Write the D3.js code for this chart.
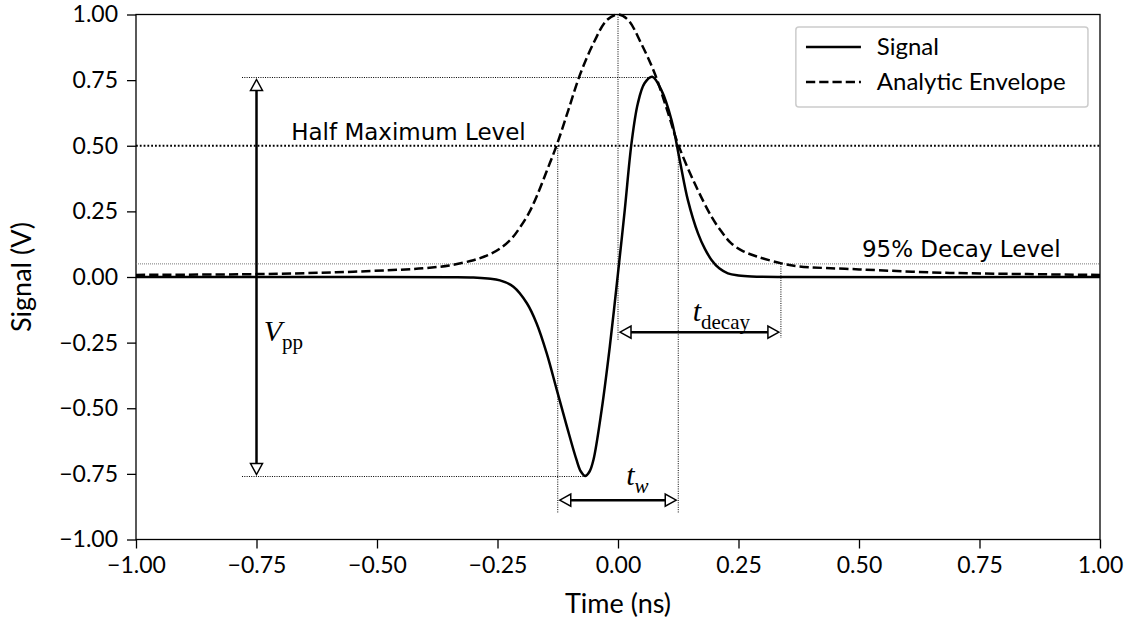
<!DOCTYPE html>
<html>
<head>
<meta charset="utf-8">
<script src="https://cdn.jsdelivr.net/npm/d3@7"></script>
<style>
  body { margin: 0; background: #fff; }
</style>
</head>
<body>
<div id="chart"></div>
<script>
// values
const signalTime = [-1.0, -0.5, -0.35, -0.30, -0.27, -0.245, -0.217, -0.189, -0.169, -0.148, -0.127, -0.106, -0.086, -0.077, -0.068, -0.059, -0.051, -0.034, -0.017, 0.0, 0.014, 0.028, 0.041, 0.055, 0.071, 0.09, 0.111, 0.128, 0.145, 0.166, 0.18, 0.194, 0.21, 0.228, 0.25, 0.277, 0.35, 1.0];
const signalValue = [0, 0, -0.001, -0.002, -0.006, -0.013, -0.037, -0.10, -0.176, -0.29, -0.43, -0.57, -0.697, -0.741, -0.758, -0.741, -0.697, -0.507, -0.265, 0.015, 0.255, 0.509, 0.66, 0.738, 0.763, 0.712, 0.598, 0.446, 0.293, 0.166, 0.108, 0.065, 0.033, 0.014, 0.006, 0.002, 0, 0];

const envTime = [-1.0, -0.75, -0.585, -0.45, -0.4, -0.35, -0.3, -0.27, -0.245, -0.22, -0.203, -0.185, -0.169, -0.148, -0.127, -0.103, -0.079, -0.051, -0.023, 0, 0.021, 0.048, 0.076, 0.104, 0.124, 0.159, 0.194, 0.215, 0.235, 0.26, 0.29, 0.339, 0.373, 0.5, 0.68, 0.85, 1.0];
const envValue = [0.008, 0.011, 0.018, 0.028, 0.034, 0.044, 0.064, 0.083, 0.108, 0.148, 0.19, 0.243, 0.306, 0.403, 0.503, 0.636, 0.77, 0.89, 0.979, 1.0, 0.979, 0.89, 0.776, 0.624, 0.509, 0.357, 0.23, 0.172, 0.128, 0.098, 0.077, 0.052, 0.041, 0.029, 0.016, 0.011, 0.008];

const xTicks = [-1, -0.75, -0.5, -0.25, 0, 0.25, 0.5, 0.75, 1];
const yTicks = [-1, -0.75, -0.5, -0.25, 0, 0.25, 0.5, 0.75, 1];
const legendLabels = ["Signal", "Analytic Envelope"];

// annotation values
const halfMax = 0.5;
const decayLevel = 0.05;
const vppTop = 0.76, vppBottom = -0.76, vppTime = -0.75;
const peakTime = 0.071, troughTime = -0.068;
const twStart = -0.125, twEnd = 0.125, twLevel = -0.85;
const decayStart = 0, decayEnd = 0.338, decayArrowLevel = -0.21;

const margin = {top: 14.5, right: 36, bottom: 84.5, left: 136};
const width = 1136 - margin.left - margin.right;
const height = 624 - margin.top - margin.bottom;
const sansFont = "Lato, 'DejaVu Sans', sans-serif";
const annFont = "'DejaVu Sans', sans-serif";
const mathFont = "'Liberation Serif', 'DejaVu Serif', serif";

const svg = d3.select("#chart").append("svg")
    .attr("width", 1136)
    .attr("height", 624)
    .append("g")
    .attr("transform", `translate(${margin.left},${margin.top})`);

const x = d3.scaleLinear().domain([-1, 1]).range([0, width]);
const y = d3.scaleLinear().domain([-1, 1]).range([height, 0]);

// axes
const fmt = d3.format(".2f");
const xAxis = svg.append("g")
    .attr("transform", `translate(0,${height})`)
    .call(d3.axisBottom(x).tickValues(xTicks).tickFormat(fmt).tickSize(9).tickPadding(8));
const yAxis = svg.append("g")
    .call(d3.axisLeft(y).tickValues(yTicks).tickFormat(fmt).tickSize(9).tickPadding(9));
[xAxis, yAxis].forEach(a => {
    a.select(".domain").remove();
    a.selectAll(".tick line").attr("stroke", "#000").attr("stroke-width", 1.3);
    a.selectAll(".tick text").attr("fill", "#000")
        .style("font-family", sansFont).style("font-size", "23px");
});

// frame
svg.append("rect")
    .attr("x", 0).attr("y", 0)
    .attr("width", width).attr("height", height)
    .attr("fill", "none")
    .attr("stroke", "#000")
    .attr("stroke-width", 1.3);

// axis labels
svg.append("text")
    .attr("x", x(0)).attr("y", height + 73)
    .attr("text-anchor", "middle")
    .style("font-family", sansFont).style("font-size", "27px")
    .text("Time (ns)");
svg.append("text")
    .attr("transform", `translate(${-margin.left + 31},${y(0)}) rotate(-90)`)
    .attr("text-anchor", "middle")
    .style("font-family", sansFont).style("font-size", "27px")
    .text("Signal (V)");

// reference lines
function dotted(x1, y1, x2, y2, color, w, dash) {
    svg.append("line")
        .attr("x1", x(x1)).attr("y1", y(y1))
        .attr("x2", x(x2)).attr("y2", y(y2))
        .attr("stroke", color)
        .attr("stroke-width", w)
        .attr("stroke-dasharray", dash);
}
dotted(-1, halfMax, 1, halfMax, "#000", 1.8, "1.8,2");
dotted(-1, decayLevel, 1, decayLevel, "#777", 1, "1,1");
dotted(-0.78, vppTop, peakTime, vppTop, "#000", 1, "1,1.3");
dotted(-0.78, vppBottom, troughTime, vppBottom, "#000", 1, "1,1.3");
dotted(0, 1, 0, -0.24, "#000", 1, "1,1.3");
dotted(twStart, halfMax, twStart, -0.9, "#000", 1, "1,1.3");
dotted(twEnd, halfMax, twEnd, -0.9, "#000", 1, "1,1.3");
dotted(decayEnd, decayLevel, decayEnd, -0.232, "#000", 1, "1,1.3");

// curves
const line = d3.line()
    .x(d => x(d[0]))
    .y(d => y(d[1]))
    .curve(d3.curveCatmullRom.alpha(0.5));

svg.append("path")
    .datum(envTime.map((t, i) => [t, envValue[i]]))
    .attr("fill", "none")
    .attr("stroke", "#000")
    .attr("stroke-width", 2.5)
    .attr("stroke-dasharray", "9.25,4")
    .attr("d", line);

svg.append("path")
    .datum(signalTime.map((t, i) => [t, signalValue[i]]))
    .attr("fill", "none")
    .attr("stroke", "#000")
    .attr("stroke-width", 2.5)
    .attr("d", line);

// double headed arrows with open heads
function arrow(x1, y1, x2, y2) {
    const ax = x(x1), ay = y(y1), bx = x(x2), by = y(y2);
    const len = Math.hypot(bx - ax, by - ay);
    const ux = (bx - ax) / len, uy = (by - ay) / len;
    const shrink = 2, head = 11, half = 6;
    const p1 = [ax + ux * shrink, ay + uy * shrink];
    const p2 = [bx - ux * shrink, by - uy * shrink];
    svg.append("line")
        .attr("x1", p1[0] + ux * head).attr("y1", p1[1] + uy * head)
        .attr("x2", p2[0] - ux * head).attr("y2", p2[1] - uy * head)
        .attr("stroke", "#000").attr("stroke-width", 2.5);
    [[p1, 1], [p2, -1]].forEach(([p, s]) => {
        const bxp = p[0] + s * ux * head, byp = p[1] + s * uy * head;
        svg.append("path")
            .attr("d", `M${p[0]},${p[1]}L${bxp - uy * half},${byp + ux * half}L${bxp + uy * half},${byp - ux * half}Z`)
            .attr("fill", "#fff")
            .attr("stroke", "#000")
            .attr("stroke-width", 1.5)
            .attr("stroke-linejoin", "miter");
    });
}
arrow(vppTime, vppTop, vppTime, vppBottom);
arrow(twStart, twLevel, twEnd, twLevel);
arrow(decayStart, decayArrowLevel, decayEnd, decayArrowLevel);

// text annotations
svg.append("text")
    .attr("x", x(-0.678)).attr("y", y(0.522))
    .style("font-family", annFont).style("font-size", "23px")
    .text("Half Maximum Level");
svg.append("text")
    .attr("x", x(0.506)).attr("y", y(0.076))
    .style("font-family", annFont).style("font-size", "23px")
    .text("95% Decay Level");

function mathLabel(t, v, main, sub, subItalic) {
    const txt = svg.append("text")
        .attr("x", x(t)).attr("y", y(v))
        .style("font-family", mathFont).style("font-size", "30px");
    txt.append("tspan").style("font-style", "italic").text(main);
    txt.append("tspan")
        .attr("dy", 8)
        .style("font-size", "21px")
        .style("font-style", subItalic ? "italic" : "normal")
        .text(sub);
}
mathLabel(-0.735, -0.244, "V", "pp", false);
mathLabel(0.017, -0.792, "t", "w", true);
mathLabel(0.155, -0.168, "t", "decay", false);

// legend
const legend = svg.append("g");
legend.append("rect")
    .attr("x", x(0.369)).attr("y", y(0.952))
    .attr("width", x(0.975) - x(0.369)).attr("height", y(0.648) - y(0.952))
    .attr("rx", 3)
    .attr("fill", "#fff")
    .attr("stroke", "#ccc")
    .attr("stroke-width", 1.5);
legendLabels.forEach((label, i) => {
    const ly = y(0.876) + i * 35;
    legend.append("line")
        .attr("x1", x(0.39)).attr("x2", x(0.504))
        .attr("y1", ly).attr("y2", ly)
        .attr("stroke", "#000")
        .attr("stroke-width", 2.5)
        .attr("stroke-dasharray", i === 1 ? "9.25,4" : null);
    legend.append("text")
        .attr("x", x(0.537)).attr("y", ly + 8)
        .style("font-family", sansFont).style("font-size", "24px")
        .text(label);
});
</script>
</body>
</html>
